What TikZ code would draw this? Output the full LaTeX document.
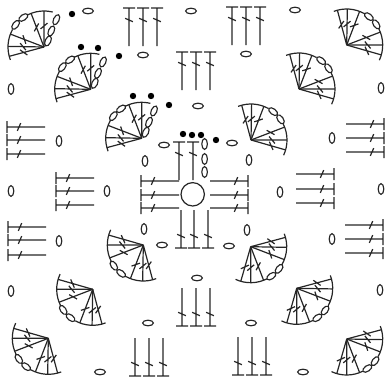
\documentclass[tikz,border=0pt]{standalone}
\tikzset{
  ink/.style={draw=black!85,line width=1.2pt},
  ovalmark/.style={draw=black!85,line width=1.15pt},
  dotmark/.style={fill=black,draw=none}
}
\newcommand{\stitchmark}[3]{%
  \begin{scope}[shift={(#1pt,-#2pt)},rotate=#3]
    \draw[ink] (-6,0)--(6,0) (0,0)--(0,-38) (-3.9,-10.3)--(3.9,-13.7);
  \end{scope}}
\newcommand{\fanbase}[1]{%
  \draw[ink] (111:36) arc[start angle=111,end angle=61,radius=36];
  \foreach \a in {105,89,69,21,0#1}{
    \draw[ink,rotate=\a] (0,0)--(36,0) (21,0)+(-50:4.5)--+(130:4.5);
  }
  \foreach \a in {52,35}{
    \draw[ovalmark,rotate=\a] (36,0) ellipse[x radius=2.8,y radius=5.2];
  }
}
\newcommand{\plainfan}[3]{%
  \begin{scope}[shift={(#1pt,-#2pt)},rotate=#3]
    \fanbase{,-16}
    \draw[ink] (27:36) arc[start angle=27,end angle=-25,radius=36];
  \end{scope}}
\newcommand{\chainfan}[2]{%
  \begin{scope}[shift={(#1pt,-#2pt)},rotate=90]
    \fanbase{}
    \draw[ink] (27:36) arc[start angle=27,end angle=-14,radius=36];
    \foreach \p in {(6,-4),(16,-7.3),(27.3,-12.3)}{
      \draw[ovalmark,shift={\p},rotate=-25] (0,0) ellipse[x radius=5.4,y radius=2.8];
    }
  \end{scope}}
\begin{document}
\begin{tikzpicture}[x=1pt,y=1pt]
\useasboundingbox (0,0) rectangle (385,-383);
% fans
\chainfan{44}{47}
\chainfan{90.7}{89.3}
\chainfan{141.7}{138.3}
\plainfan{346.7}{45}{0}
\plainfan{299}{89}{0}
\plainfan{251}{140}{0}
\plainfan{92.7}{289.3}{180}
\plainfan{48.3}{338.3}{180}
\plainfan{143.3}{245}{180}
\plainfan{296.7}{288.3}{270}
\plainfan{346.7}{339}{270}
\plainfan{250.7}{246.7}{270}
% up stitches
\foreach \x/\y in {129/8,143/8,157/8,232/7,246/7,260/7,182/52,196/52,210/52,179/142,193/142}{\stitchmark{\x}{\y}{0}}
% down stitches
\foreach \x/\y in {181/248,194/248,208/248,182/326,196/326,210/326,135/376,149/376,163/376,238/375,252/375,266/375}{\stitchmark{\x}{\y}{180}}
% left stitches
\foreach \x/\y in {141/181,141/195,141/208,7/127,7/140,7/154,56/178,56/191,56/205,8/227,8/240,8/255}{\stitchmark{\x}{\y}{90}}
% right stitches
\foreach \x/\y in {248/181,248/195,248/208,334/174,334/189,334/203,384/124,384/138,384/152,383/225,383/239,383/253}{\stitchmark{\x}{\y}{-90}}
% centre ring
\draw[ink] (192.7,-194.3) circle[radius=11.7];
% horizontal ovals
\foreach \x/\y in {88/11,191/11,295/10,143/55,246/54,198/106,164/145,232/143,162/245,229/246,197/278,148/323,251/323,100/372,303/372}{
  \draw[ovalmark] (\x,-\y) ellipse[x radius=5.4,y radius=2.8];}
% vertical ovals
\foreach \x/\y in {11/89,59/141,11/191,107/191,59/241,11/291,145/161,249/160,204.6/144,204.6/159,204.6/172,144/229,247/230,332/138,381/88,381/189,280/192,332/239,380/290}{
  \draw[ovalmark] (\x,-\y) ellipse[x radius=2.8,y radius=5.4];}
% dots
\foreach \x/\y in {72/14,81/47,98/48,119/56,133/96,151/96,169/105,183/134,192/135,201/135,216/140}{
  \fill[dotmark] (\x,-\y) circle[radius=3.2];}
\end{tikzpicture}
\end{document}
